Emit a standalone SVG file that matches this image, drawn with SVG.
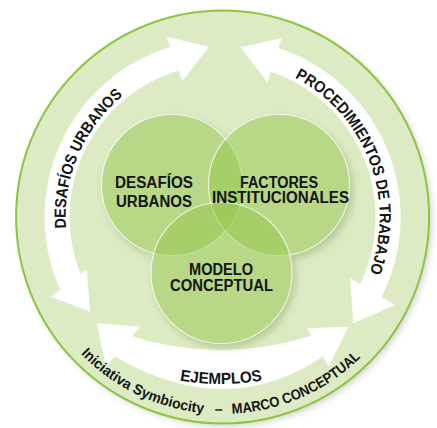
<svg xmlns="http://www.w3.org/2000/svg" width="437" height="428" viewBox="0 0 437 428">
<defs>
<style>
.band{fill:#ffffff;}
.head{fill:#ffffff;}
.ring{fill:#ddebc4;stroke:#8cc540;stroke-width:2;}
.venn{fill:#93c54b;fill-opacity:0.5;stroke:#ffffff;stroke-opacity:0.75;stroke-width:1.2;}
.lbl{font-family:"Liberation Sans",Arial,sans-serif;font-weight:bold;font-size:16px;fill:#141414;text-anchor:middle;}
.arc{font-family:"Liberation Sans",Arial,sans-serif;font-weight:bold;font-size:16px;fill:#141414;}
.foot{font-family:"Liberation Sans",Arial,sans-serif;font-weight:bold;font-size:14.5px;fill:#141414;}
</style>
<filter id="blur" x="-20%" y="-20%" width="140%" height="140%"><feGaussianBlur stdDeviation="4"/></filter>
<filter id="blur2" x="-10%" y="-10%" width="120%" height="120%"><feGaussianBlur stdDeviation="3"/></filter>
<path id="pLeft" d="M 70.95 257.63 A 157 157 0 0 1 156.25 74.71"/>
<path id="pRight" d="M 263.23 65.35 A 157 157 0 0 1 358.57 295.5"/>
<path id="pBottom" d="M 119.6 361.5 A 240 240 0 0 0 322.4 361.5"/>
<path id="pFoot" d="M 52 315.5 A 197 197 0 0 0 393.2 315.5"/>
</defs>

<g id="frame">
<circle cx="225.6" cy="220" r="206.5" fill="#8a8a8a" opacity="0.35" filter="url(#blur2)"/>
<circle class="ring" cx="222.6" cy="217" r="206.5"/>
</g>

<g id="connectors">
<path class="band" d="M 62.61 295.03 A 178 178 0 0 1 176.53 45.07 L 183.0 69.22 A 153 153 0 0 0 85.08 284.08 Z"/>
<polygon class="head" points="166.7,36.7 209,46.7 182.3,81"/>
<polygon class="head" points="50.7,296.7 86.7,269.3 90,311.7"/>
<path class="band" d="M 271.66 45.9 A 178 178 0 0 1 378.28 303.3 L 356.41 291.17 A 153 153 0 0 0 264.77 69.92 Z"/>
<polygon class="head" points="281.7,38.3 240.7,47.3 267.3,82.3"/>
<polygon class="head" points="350,278.3 395,305 353.3,323.3"/>
<path class="band" d="M 126 334.5 Q 222.4 366.3 319.5 333 L 328 353 Q 226.7 425 109 353 Z"/>
<polygon class="head" points="140,326.7 96.7,323.3 106,366.7"/>
<polygon class="head" points="307,328.3 348.5,326.7 328.7,366.7"/>
<text class="arc"><textPath href="#pLeft" startOffset="29.8" textLength="73.4" lengthAdjust="spacingAndGlyphs">DESAFÍOS</textPath></text>
<text class="arc"><textPath href="#pLeft" startOffset="107.2" textLength="72.6" lengthAdjust="spacingAndGlyphs">URBANOS</textPath></text>
<text class="arc"><textPath href="#pRight" startOffset="34" textLength="130.8" lengthAdjust="spacingAndGlyphs">PROCEDIMIENTOS</textPath></text>
<text class="arc"><textPath href="#pRight" startOffset="168.8" textLength="19.9" lengthAdjust="spacingAndGlyphs">DE</textPath></text>
<text class="arc"><textPath href="#pRight" startOffset="192.7" textLength="69.3" lengthAdjust="spacingAndGlyphs">TRABAJO</textPath></text>
<text class="arc"><textPath href="#pBottom" startOffset="50%" text-anchor="middle" textLength="83" lengthAdjust="spacingAndGlyphs">EJEMPLOS</textPath></text>
</g>

<g id="footer">
<text class="foot"><textPath href="#pFoot" startOffset="48" textLength="60.1" lengthAdjust="spacingAndGlyphs">Iniciativa</textPath></text>
<text class="foot"><textPath href="#pFoot" startOffset="112" textLength="75" lengthAdjust="spacingAndGlyphs">Symbiocity</textPath></text>
<text class="foot"><textPath href="#pFoot" startOffset="198">–</textPath></text>
<text class="foot"><textPath href="#pFoot" startOffset="215.6" textLength="49.3" lengthAdjust="spacingAndGlyphs">MARCO</textPath></text>
<text class="foot"><textPath href="#pFoot" startOffset="268.5" textLength="90.7" lengthAdjust="spacingAndGlyphs">CONCEPTUAL</textPath></text>
</g>

<g id="venn-shadow">
<g filter="url(#blur)" fill="#6f8f45" opacity="0.4" transform="translate(3,4)">
<circle cx="172" cy="185" r="70.5"/>
<circle cx="279" cy="185" r="70.5"/>
<circle cx="221.5" cy="273" r="70.5"/>
</g>
<g fill="#ddebc4">
<circle cx="172" cy="185" r="70.5"/>
<circle cx="279" cy="185" r="70.5"/>
<circle cx="221.5" cy="273" r="70.5"/>
</g>
</g>

<g id="node-desafios">
<circle class="venn" cx="172" cy="185" r="70.5"/>
</g>
<g id="node-factores">
<circle class="venn" cx="279" cy="185" r="70.5"/>
</g>
<g id="node-modelo">
<circle class="venn" cx="221.5" cy="273" r="70.5"/>
</g>
<g id="labels">
<text class="lbl" x="154" y="188" textLength="78" lengthAdjust="spacingAndGlyphs">DESAFÍOS</text>
<text class="lbl" x="154" y="206.7" textLength="76" lengthAdjust="spacingAndGlyphs">URBANOS</text>
<text class="lbl" x="279" y="187.5" textLength="78" lengthAdjust="spacingAndGlyphs">FACTORES</text>
<text class="lbl" x="280.5" y="202.8" textLength="137" lengthAdjust="spacingAndGlyphs">INSTITUCIONALES</text>
<text class="lbl" x="221" y="275" textLength="64" lengthAdjust="spacingAndGlyphs">MODELO</text>
<text class="lbl" x="221.5" y="290.8" textLength="103" lengthAdjust="spacingAndGlyphs">CONCEPTUAL</text>
</g>
</svg>
